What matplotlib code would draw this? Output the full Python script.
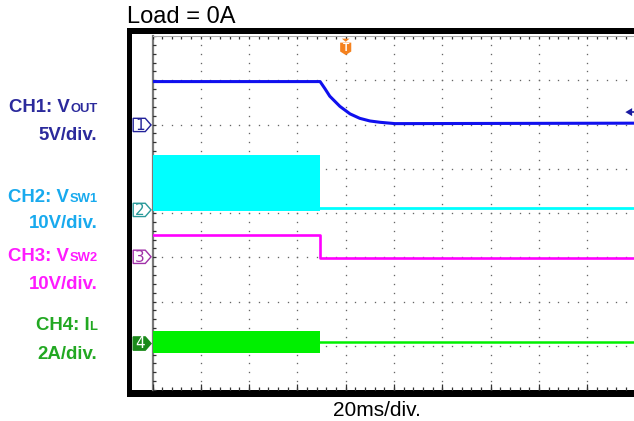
import numpy as np
import matplotlib
matplotlib.use("Agg")
import matplotlib.pyplot as plt
from matplotlib.patches import Rectangle, Polygon

# -----------------------------
# Data (scope divisions: x = time div, 20ms/div; y = vertical div from bottom)
# -----------------------------
step_t = 3.47          # time of turn-off edge (div)
trig_t = 4.0           # trigger position (div)
trig_level = 6.28      # trigger level marker (div)

# CH1 Vout
ch1_t = [0, 3.47, 3.57, 3.67, 3.88, 4.09, 4.29, 4.50, 4.71, 5.02, 10]
ch1_v = [6.97, 6.97, 6.81, 6.64, 6.41, 6.24, 6.14, 6.08, 6.05, 6.02, 6.03]

# CH2 Vsw1: switching band before edge, flat after
ch2_band = [4.05, 5.31]
ch2_after = 4.11

# CH3 Vsw2
ch3_t = [0, 3.47, 3.47, 10]
ch3_v = [3.51, 3.51, 2.99, 2.99]

# CH4 IL: ripple band before edge, flat after
ch4_band = [0.84, 1.33]
ch4_after = 1.08

# channel ground markers
markers = ["1", "2", "3", "4"]
marker_y = [5.99, 4.07, 3.01, 1.05]
marker_edge = ["#23239a", "#2a9a9a", "#a030a8", "#1a8a1a"]
marker_fill = ["white", "white", "white", "#1a8a1a"]
marker_text = ["#23239a", "#2a9a9a", "#a030a8", "white"]

# left labels: (main, subscript, colour, baseline px)
labels = [
    ("CH1: V", "OUT", "#2b2a9c", 111.5),
    ("5V/div.", "", "#2b2a9c", 140),
    ("CH2: V", "SW1", "#18aaee", 201.7),
    ("10V/div.", "", "#18aaee", 228.3),
    ("CH3: V", "SW2", "#ff1aff", 260.7),
    ("10V/div.", "", "#ff1aff", 289.3),
    ("CH4: I", "L", "#22a822", 330),
    ("2A/div.", "", "#22a822", 359),
]

trace_colors = ["#1010ee", "#00ffff", "#ff00ff", "#00f000"]

# -----------------------------
# Figure
# -----------------------------
W, H = 634, 421
plt.rcParams["font.family"] = ["Liberation Sans", "DejaVu Sans"]
fig = plt.figure(figsize=(W / 100, H / 100), dpi=100)
fig.patch.set_facecolor("white")


def fx(x):
    return x / W


def fy(y):
    return 1 - y / H


# black scope frame
fig.patches.append(Rectangle((fx(127), fy(397)), fx(640) - fx(127), fy(28) - fy(397),
                             transform=fig.transFigure, facecolor="black", zorder=0))
fig.patches.append(Rectangle((fx(132), fy(390)), fx(640) - fx(132), fy(34) - fy(390),
                             transform=fig.transFigure, facecolor="white", zorder=0.5))

ax = fig.add_axes([fx(152.5), fy(390), (635.5 - 152.5) / W, (390 - 36) / H])
ax.set_zorder(2)
ax.set_facecolor("none")
ax.set_xlim(0, 10)
ax.set_ylim(0, 8)
ax.axis("off")

# grid dots
gc = "#666666"
minor_x = np.arange(0, 10.01, 0.2)
minor_y = np.arange(0, 8.01, 0.2)
for gx in range(1, 10):
    ax.plot(np.full_like(minor_y, gx), minor_y, ls="none", marker="s",
            ms=0.95, mew=0, color=gc, zorder=1)
for gy in range(1, 8):
    ax.plot(minor_x, np.full_like(minor_x, gy), ls="none", marker="s",
            ms=0.95, mew=0, color=gc, zorder=1)

# border ticks
ax.plot([0, 0], [0, 8], color="#7a7a7a", lw=1.6, zorder=1, clip_on=False)
ax.plot(np.full_like(minor_y, 0.04), minor_y, ls="none", marker="_", ms=3,
        mew=0.9, color="#333333", zorder=1)
ax.plot(minor_x, np.full_like(minor_x, 7.97), ls="none", marker="|", ms=3,
        mew=0.9, color="#333333", zorder=1)
ax.plot([0, 10], [7.995, 7.995], color="#aaaaaa", lw=0.8, zorder=1)
ax.plot(minor_x, np.full_like(minor_x, 0.03), ls="none", marker="|", ms=3,
        mew=0.9, color="#333333", zorder=1)
ax.plot(np.arange(0, 10.01, 1), np.full(11, 0.06), ls="none", marker="|", ms=5,
        mew=0.9, color="#333333", zorder=1)

# traces
ax.plot(ch1_t, ch1_v, color=trace_colors[0], lw=2.2, zorder=5)

ax.fill_between([0, step_t], ch2_band[0], ch2_band[1], color=trace_colors[1],
                lw=0, zorder=4)
ax.plot([step_t, 10], [ch2_after, ch2_after], color=trace_colors[1], lw=2.0, zorder=4)

ax.plot(ch3_t, ch3_v, color=trace_colors[2], lw=1.9, zorder=4)

ax.fill_between([0, step_t], ch4_band[0], ch4_band[1], color=trace_colors[3],
                lw=0, zorder=4)
ax.plot([step_t, 10], [ch4_after, ch4_after], color=trace_colors[3], lw=1.8, zorder=4)

# channel markers on the left
for m, my, ec, fc, tc in zip(markers, marker_y, marker_edge, marker_fill, marker_text):
    pts = [(-0.40, my - 0.15), (-0.15, my - 0.15), (-0.03, my),
           (-0.15, my + 0.15), (-0.40, my + 0.15)]
    ax.add_patch(Polygon(pts, closed=True, facecolor=fc, edgecolor=ec, lw=1.0,
                         clip_on=False, zorder=6))
    ax.text(-0.255, my - 0.01, m, ha="center", va="center", fontsize=11,
            color=tc, family="DejaVu Sans", clip_on=False, zorder=7)

# trigger position marker
orange = "#f5821f"
ax.add_patch(Polygon([(trig_t - 0.08, 7.94), (trig_t + 0.08, 7.94), (trig_t, 7.87)],
                     closed=True, facecolor=orange, edgecolor="none", zorder=6))
ax.add_patch(Polygon([(trig_t - 0.115, 7.85), (trig_t + 0.115, 7.85), (trig_t + 0.115, 7.65),
                      (trig_t, 7.57), (trig_t - 0.115, 7.65)],
                     closed=True, facecolor=orange, edgecolor="none", zorder=6))
ax.text(trig_t, 7.73, "T", ha="center", va="center", fontsize=7.5, color="white",
        weight="bold", zorder=7)

# trigger level marker
ax.add_patch(Polygon([(9.79, trig_level), (9.93, trig_level + 0.09), (9.93, trig_level - 0.09)],
                     closed=True, facecolor="#1a1aa0", edgecolor="none", zorder=6))
ax.plot([9.9, 10], [trig_level, trig_level], color="#1a1aa0", lw=1.2, zorder=6)

# -----------------------------
# Text
# -----------------------------
fig.text(fx(127), fy(23), "Load = 0A", ha="left", va="baseline", fontsize=17)
fig.text(fx(377), fy(416.5), "20ms/div.", ha="center", va="baseline", fontsize=15)

fs = 13.4
xr = fx(97.5)
fig.canvas.draw()
renderer = fig.canvas.get_renderer()
for main, sub, col, by in labels:
    x_main = xr
    if sub:
        ts = fig.text(xr, fy(by + 0.5), sub, ha="right", va="baseline",
                      fontsize=fs * 0.7, weight="bold", color=col)
        w = ts.get_window_extent(renderer).width
        x_main = xr - w / W
    fig.text(x_main, fy(by), main, ha="right", va="baseline", fontsize=fs,
             weight="bold", color=col)

fig.savefig("out.png", dpi=100)
